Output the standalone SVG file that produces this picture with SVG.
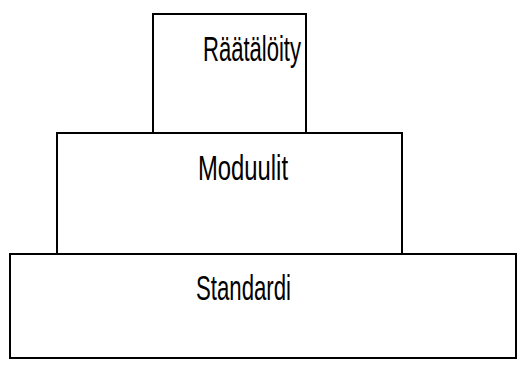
<svg xmlns="http://www.w3.org/2000/svg" width="526" height="368" viewBox="0 0 526 368">
  <style>
    .box { fill: none; stroke: #000; stroke-width: 2; }
    .label { font-family: "Liberation Sans", Arial, sans-serif; font-size: 35px; fill: #000; }
  </style>
  <rect width="526" height="368" fill="#fff"/>
  <g id="standardi">
    <rect class="box" x="10" y="254" width="506" height="104"/>
    <text class="label" x="196" y="300" textLength="95" lengthAdjust="spacingAndGlyphs">Standardi</text>
  </g>
  <g id="moduulit">
    <rect class="box" x="57" y="133" width="345" height="121"/>
    <text class="label" x="198" y="180" textLength="90" lengthAdjust="spacingAndGlyphs">Moduulit</text>
  </g>
  <g id="raataloity">
    <rect class="box" x="153" y="14" width="153" height="119"/>
    <text class="label" x="203" y="61" textLength="98" lengthAdjust="spacingAndGlyphs">Räätälöity</text>
  </g>
  <g id="connectors"/>
</svg>
